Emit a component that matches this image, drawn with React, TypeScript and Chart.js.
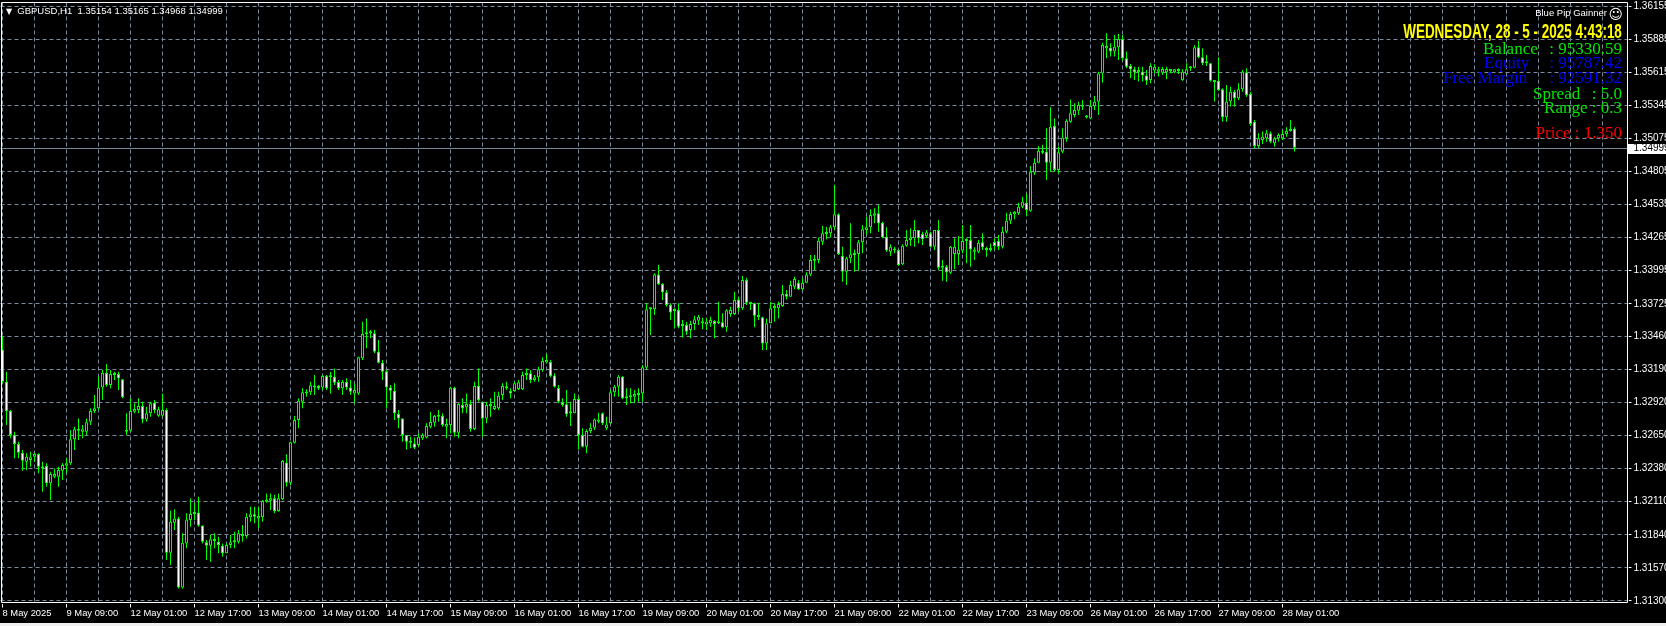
import React, { useEffect, useRef } from 'react';
import { Chart, registerables } from 'chart.js';

Chart.register(...registerables);

const W = 1666;
const H = 626;

// ---- GBPUSD H1 candles, 8 May 2025 17:00 .. 28 May 2025 04:00 ----
const opens = [
  1.33353,1.33090,1.32850,1.32654,1.32581,1.32510,1.32437,1.32450,1.32478,1.32500,
  1.32396,1.32401,1.32260,1.32314,1.32314,1.32363,1.32404,1.32423,1.32619,1.32690,
  1.32682,1.32682,1.32763,1.32850,1.32872,1.33043,1.33163,1.33062,1.33144,1.33152,
  1.33109,1.32682,1.32690,1.32845,1.32858,1.32891,1.32782,1.32831,1.32918,1.32812,
  1.32812,1.32858,1.31694,1.31939,1.31974,1.31411,1.31770,1.31961,1.32010,1.32023,
  1.31917,1.31779,1.31751,1.31803,1.31784,1.31751,1.31689,1.31757,1.31779,1.31784,
  1.31844,1.31830,1.31983,1.32007,1.31974,1.31983,1.32110,1.32119,1.32138,1.32034,
  1.32130,1.32431,1.32265,1.32592,1.32777,1.32926,1.32994,1.33003,1.33043,1.33054,
  1.33043,1.33136,1.33125,1.33130,1.33087,1.33035,1.33087,1.33043,1.32994,1.32994,
  1.33280,1.33492,1.33492,1.33484,1.33334,1.33245,1.33174,1.33043,1.33016,1.32826,
  1.32790,1.32654,1.32592,1.32586,1.32573,1.32627,1.32635,1.32722,1.32755,1.32804,
  1.32809,1.32722,1.32736,1.33041,1.32673,1.32899,1.32880,1.32907,1.32703,1.33054,
  1.32926,1.32790,1.32891,1.32867,1.32872,1.32981,1.33035,1.33013,1.33013,1.33030,
  1.33027,1.33144,1.33158,1.33103,1.33125,1.33185,1.33247,1.33250,1.33141,1.33038,
  1.32921,1.32905,1.32831,1.32831,1.32948,1.32654,1.32559,1.32687,1.32714,1.32763,
  1.32831,1.32709,1.32750,1.33003,1.33049,1.33128,1.32954,1.32962,1.32967,1.32981,
  1.32994,1.33204,1.33680,1.33680,1.33965,1.33887,1.33819,1.33715,1.33666,1.33674,
  1.33544,1.33552,1.33511,1.33560,1.33587,1.33576,1.33557,1.33566,1.33585,1.33576,
  1.33574,1.33533,1.33642,1.33642,1.33761,1.33688,1.33919,1.33723,1.33729,1.33615,
  1.33615,1.33402,1.33566,1.33688,1.33688,1.33707,1.33805,1.33783,1.33865,1.33897,
  1.33843,1.33897,1.33965,1.34077,1.34082,1.34232,1.34295,1.34300,1.34349,1.34455,
  1.34115,1.33987,1.34096,1.34123,1.34131,1.34227,1.34327,1.34349,1.34444,1.34463,
  1.34387,1.34273,1.34150,1.34159,1.34164,1.34047,1.34199,1.34246,1.34259,1.34327,
  1.34295,1.34278,1.34300,1.34191,1.34327,1.34020,1.34028,1.33979,1.34131,1.34131,
  1.34159,1.34237,1.34246,1.34150,1.34150,1.34227,1.34164,1.34164,1.34229,1.34240,
  1.34191,1.34313,1.34403,1.34455,1.34463,1.34517,1.34550,1.34485,1.34795,1.34876,
  1.34974,1.34966,1.34876,1.35176,1.34817,1.34966,1.35075,1.35211,1.35265,1.35301,
  1.35333,1.35257,1.35238,1.35339,1.35374,1.35605,1.35810,1.35815,1.35783,1.35818,
  1.35886,1.35728,1.35666,1.35638,1.35614,1.35619,1.35587,1.35551,1.35628,1.35619,
  1.35611,1.35614,1.35625,1.35614,1.35625,1.35551,1.35598,1.35647,1.35652,1.35818,
  1.35736,1.35687,1.35687,1.35546,1.35546,1.35475,1.35247,1.35375,1.35456,1.35402,
  1.35475,1.35614,1.35437,1.35211,1.35013,1.35062,1.35075,1.35116,1.35035,1.35075,
  1.35075,1.35111,1.35135,1.35154,
];

const highs = [
  1.33457,1.33171,1.32858,1.32682,1.32600,1.32532,1.32505,1.32518,1.32510,1.32505,
  1.32437,1.32423,1.32355,1.32382,1.32396,1.32423,1.32464,1.32695,1.32722,1.32790,
  1.32736,1.32790,1.32872,1.32981,1.33130,1.33185,1.33234,1.33185,1.33171,1.33171,
  1.33109,1.32831,1.32954,1.32913,1.32954,1.32926,1.32886,1.32926,1.32940,1.32886,
  1.32994,1.32872,1.32037,1.32048,1.31988,1.31852,1.32015,1.32138,1.32102,1.32151,
  1.31917,1.31798,1.31838,1.31852,1.31825,1.31770,1.31770,1.31838,1.31866,1.31879,
  1.31920,1.32015,1.32070,1.32070,1.32070,1.32124,1.32178,1.32178,1.32165,1.32178,
  1.32450,1.32497,1.32600,1.32809,1.32954,1.33035,1.33027,1.33090,1.33144,1.33062,
  1.33144,1.33144,1.33171,1.33198,1.33103,1.33103,1.33117,1.33103,1.33076,1.33294,
  1.33579,1.33606,1.33511,1.33511,1.33430,1.33266,1.33185,1.33062,1.33076,1.32858,
  1.32790,1.32654,1.32641,1.32635,1.32668,1.32668,1.32750,1.32845,1.32818,1.32858,
  1.32831,1.32790,1.33049,1.33049,1.32913,1.32954,1.32994,1.32940,1.33090,1.33198,
  1.32926,1.32926,1.32954,1.33008,1.33008,1.33076,1.33090,1.33035,1.33090,1.33103,
  1.33171,1.33198,1.33185,1.33144,1.33212,1.33288,1.33318,1.33266,1.33158,1.33062,
  1.32954,1.33022,1.32926,1.32994,1.32967,1.32709,1.32701,1.32750,1.32790,1.32837,
  1.32839,1.32804,1.33022,1.33062,1.33144,1.33136,1.33035,1.33035,1.33022,1.33035,
  1.33226,1.33729,1.33696,1.33974,1.34042,1.33892,1.33838,1.33729,1.33688,1.33729,
  1.33593,1.33579,1.33587,1.33628,1.33634,1.33612,1.33606,1.33620,1.33593,1.33742,
  1.33647,1.33680,1.33702,1.33824,1.33783,1.33952,1.33938,1.33742,1.33734,1.33729,
  1.33620,1.33606,1.33742,1.33729,1.33742,1.33878,1.33838,1.33914,1.33946,1.33919,
  1.33933,1.33982,1.34123,1.34123,1.34267,1.34360,1.34354,1.34368,1.34694,1.34463,
  1.34191,1.34110,1.34382,1.34169,1.34246,1.34368,1.34436,1.34496,1.34504,1.34531,
  1.34395,1.34349,1.34210,1.34191,1.34169,1.34210,1.34327,1.34341,1.34409,1.34327,
  1.34314,1.34327,1.34314,1.34327,1.34409,1.34082,1.34042,1.34197,1.34259,1.34278,
  1.34368,1.34259,1.34368,1.34186,1.34246,1.34300,1.34191,1.34218,1.34259,1.34286,
  1.34354,1.34468,1.34477,1.34482,1.34550,1.34599,1.34626,1.34849,1.34912,1.35012,
  1.35021,1.35157,1.35328,1.35238,1.35007,1.35157,1.35230,1.35393,1.35361,1.35374,
  1.35388,1.35265,1.35388,1.35420,1.35619,1.35856,1.35932,1.35851,1.35919,1.35927,
  1.35919,1.35783,1.35682,1.35660,1.35660,1.35660,1.35633,1.35687,1.35679,1.35660,
  1.35660,1.35660,1.35638,1.35638,1.35647,1.35638,1.35687,1.35666,1.35837,1.35872,
  1.35810,1.35755,1.35687,1.35551,1.35736,1.35483,1.35511,1.35497,1.35470,1.35524,
  1.35633,1.35647,1.35456,1.35225,1.35116,1.35130,1.35143,1.35130,1.35089,1.35116,
  1.35143,1.35165,1.35225,1.35165,
];

const lows = [
  1.33076,1.32736,1.32627,1.32464,1.32464,1.32363,1.32369,1.32396,1.32437,1.32342,
  1.32192,1.32233,1.32124,1.32301,1.32233,1.32287,1.32342,1.32410,1.32532,1.32614,
  1.32627,1.32654,1.32736,1.32831,1.32858,1.32940,1.33049,1.33035,1.33103,1.33022,
  1.32954,1.32654,1.32682,1.32831,1.32831,1.32750,1.32763,1.32804,1.32831,1.32804,
  1.32804,1.31634,1.31594,1.31879,1.31403,1.31403,1.31730,1.31906,1.31961,1.31906,
  1.31770,1.31634,1.31621,1.31730,1.31689,1.31662,1.31689,1.31730,1.31730,1.31770,
  1.31784,1.31811,1.31947,1.31934,1.31893,1.31947,1.32102,1.32042,1.32015,1.32029,
  1.32124,1.32233,1.32246,1.32586,1.32709,1.32872,1.32967,1.32981,1.32981,1.33022,
  1.33022,1.33022,1.32994,1.33062,1.33022,1.32981,1.33022,1.32981,1.32913,1.32981,
  1.33266,1.33362,1.33443,1.33321,1.33239,1.33103,1.32872,1.32940,1.32777,1.32709,
  1.32600,1.32537,1.32546,1.32540,1.32559,1.32614,1.32627,1.32709,1.32722,1.32763,
  1.32722,1.32627,1.32668,1.32641,1.32627,1.32831,1.32831,1.32682,1.32695,1.32926,
  1.32641,1.32750,1.32804,1.32858,1.32858,1.32940,1.33022,1.32954,1.33008,1.33022,
  1.33022,1.33103,1.33076,1.33090,1.33090,1.33171,1.33239,1.33125,1.33043,1.32913,
  1.32886,1.32804,1.32728,1.32831,1.32537,1.32554,1.32505,1.32668,1.32695,1.32750,
  1.32736,1.32695,1.32744,1.32967,1.32967,1.32946,1.32899,1.32913,1.32913,1.32926,
  1.32926,1.33190,1.33470,1.33634,1.33878,1.33756,1.33702,1.33593,1.33525,1.33525,
  1.33451,1.33470,1.33443,1.33511,1.33552,1.33517,1.33511,1.33538,1.33443,1.33560,
  1.33525,1.33498,1.33620,1.33634,1.33661,1.33674,1.33715,1.33674,1.33533,1.33593,
  1.33348,1.33348,1.33566,1.33579,1.33606,1.33702,1.33761,1.33783,1.33843,1.33838,
  1.33838,1.33892,1.33952,1.34001,1.34055,1.34205,1.34251,1.34267,1.34327,1.34123,
  1.33906,1.33878,1.34055,1.33987,1.33995,1.34137,1.34286,1.34300,1.34382,1.34314,
  1.34259,1.34150,1.34115,1.34137,1.34033,1.34042,1.34191,1.34197,1.34191,1.34218,
  1.34205,1.34259,1.34186,1.34164,1.34001,1.33914,1.33906,1.33968,1.34006,1.34042,
  1.34137,1.34055,1.34028,1.34082,1.34137,1.34164,1.34110,1.34150,1.34164,1.34164,
  1.34177,1.34300,1.34376,1.34414,1.34449,1.34504,1.34441,1.34477,1.34776,1.34871,
  1.34947,1.34735,1.34803,1.34803,1.34789,1.34953,1.35048,1.35203,1.35246,1.35265,
  1.35306,1.35238,1.35230,1.35306,1.35265,1.35529,1.35728,1.35742,1.35742,1.35715,
  1.35709,1.35647,1.35565,1.35551,1.35538,1.35538,1.35511,1.35524,1.35606,1.35579,
  1.35592,1.35557,1.35606,1.35606,1.35600,1.35546,1.35592,1.35625,1.35647,1.35728,
  1.35674,1.35666,1.35538,1.35375,1.35464,1.35211,1.35211,1.35334,1.35334,1.35388,
  1.35456,1.35415,1.35176,1.34994,1.34994,1.35029,1.35048,1.35035,1.35007,1.35048,
  1.35062,1.35089,1.35130,1.34968,
];

const closes = [
  1.33090,1.32850,1.32654,1.32581,1.32510,1.32445,1.32478,1.32472,1.32500,1.32396,
  1.32382,1.32260,1.32336,1.32336,1.32369,1.32410,1.32423,1.32619,1.32701,1.32706,
  1.32701,1.32758,1.32850,1.32872,1.33043,1.33163,1.33062,1.33152,1.33152,1.33117,
  1.32962,1.32695,1.32850,1.32867,1.32891,1.32782,1.32831,1.32913,1.32858,1.32864,
  1.32858,1.31694,1.31947,1.31974,1.31411,1.31776,1.31966,1.32010,1.32023,1.31917,
  1.31784,1.31751,1.31803,1.31790,1.31757,1.31689,1.31757,1.31779,1.31792,1.31852,
  1.31830,1.31988,1.32007,1.31988,1.31994,1.32116,1.32124,1.32138,1.32034,1.32138,
  1.32442,1.32265,1.32595,1.32777,1.32935,1.33003,1.33008,1.33060,1.33057,1.33035,
  1.33136,1.33035,1.33136,1.33081,1.33035,1.33087,1.33043,1.33008,1.33022,1.33288,
  1.33479,1.33476,1.33484,1.33334,1.33245,1.33171,1.33043,1.33016,1.32831,1.32790,
  1.32654,1.32600,1.32600,1.32551,1.32641,1.32654,1.32728,1.32760,1.32809,1.32812,
  1.32736,1.32744,1.33041,1.32673,1.32907,1.32872,1.32907,1.32703,1.33054,1.32940,
  1.32790,1.32899,1.32899,1.32891,1.32975,1.33054,1.33049,1.32994,1.33076,1.33084,
  1.33144,1.33158,1.33103,1.33125,1.33190,1.33258,1.33266,1.33136,1.33049,1.32926,
  1.32899,1.32823,1.32837,1.32948,1.32654,1.32559,1.32687,1.32714,1.32782,1.32782,
  1.32750,1.32741,1.33003,1.33049,1.33130,1.32954,1.32967,1.32975,1.32989,1.32994,
  1.33207,1.33680,1.33688,1.33965,1.33884,1.33819,1.33715,1.33655,1.33674,1.33538,
  1.33552,1.33498,1.33560,1.33598,1.33620,1.33566,1.33579,1.33593,1.33560,1.33566,
  1.33533,1.33672,1.33674,1.33756,1.33688,1.33919,1.33734,1.33734,1.33628,1.33634,
  1.33402,1.33566,1.33688,1.33707,1.33723,1.33805,1.33783,1.33878,1.33927,1.33843,
  1.33897,1.33965,1.34082,1.34088,1.34240,1.34300,1.34300,1.34349,1.34455,1.34131,
  1.33987,1.34096,1.34129,1.34137,1.34227,1.34333,1.34349,1.34450,1.34463,1.34382,
  1.34267,1.34159,1.34191,1.34169,1.34042,1.34199,1.34246,1.34267,1.34327,1.34259,
  1.34251,1.34308,1.34191,1.34327,1.34020,1.34033,1.33982,1.34191,1.34191,1.34169,
  1.34237,1.34246,1.34169,1.34169,1.34224,1.34186,1.34169,1.34172,1.34197,1.34191,
  1.34313,1.34403,1.34458,1.34477,1.34517,1.34558,1.34490,1.34803,1.34876,1.34974,
  1.34958,1.34876,1.35170,1.34817,1.34961,1.35083,1.35219,1.35279,1.35306,1.35347,
  1.35347,1.35246,1.35339,1.35374,1.35605,1.35837,1.35829,1.35783,1.35823,1.35886,
  1.35728,1.35660,1.35638,1.35614,1.35633,1.35587,1.35546,1.35666,1.35660,1.35638,
  1.35641,1.35641,1.35630,1.35638,1.35633,1.35619,1.35638,1.35655,1.35818,1.35736,
  1.35687,1.35695,1.35546,1.35535,1.35470,1.35247,1.35375,1.35456,1.35402,1.35475,
  1.35619,1.35429,1.35192,1.35013,1.35075,1.35089,1.35116,1.35048,1.35075,1.35102,
  1.35111,1.35135,1.35152,1.34999,
];

// time-axis labels, one every 16 bars (MT4 style)
const timeTickLabels = [
  '8 May 2025', '9 May 09:00', '12 May 01:00', '12 May 17:00', '13 May 09:00',
  '14 May 01:00', '14 May 17:00', '15 May 09:00', '16 May 01:00', '16 May 17:00',
  '19 May 09:00', '20 May 01:00', '20 May 17:00', '21 May 09:00', '22 May 01:00',
  '22 May 17:00', '23 May 09:00', '26 May 01:00', '26 May 17:00', '27 May 09:00',
  '28 May 01:00',
];
const barsPerTimeLabel = 16;
const barsPerGridLine = 8;

// price axis
const priceTicks = [
  1.31300, 1.31570, 1.31840, 1.32110, 1.32380, 1.32650, 1.32920, 1.33190, 1.33460, 1.33725,
  1.33995, 1.34265, 1.34535, 1.34805, 1.35075, 1.35345, 1.35615, 1.35885, 1.36155,
];
const priceTickLabels = [
  '1.31300', '1.31570', '1.31840', '1.32110', '1.32380', '1.32650', '1.32920', '1.33190', '1.33460', '1.33725',
  '1.33995', '1.34265', '1.34535', '1.34805', '1.35075', '1.35345', '1.35615', '1.35885', '1.36155',
];
const priceMin = 1.312796;
const priceMax = 1.361836;

const slotCount = 407; // bar slots in the window, incl. the empty chart shift on the right
const slotLabels = Array.from({ length: slotCount }, (_, i) => String(i));

const headerSymbol = 'GBPUSD,H1';
const headerOHLC = '1.35154 1.35165 1.34968 1.34999';
const bidPrice = 1.34999;
const bidLabel = '1.34999';

const eaName = 'Blue Pip Gainner';
const dateText = 'WEDNESDAY, 28 - 5 - 2025 4:43:18';
const balanceText = ': 95330.59';
const equityText = ': 95787.42';
const freeMarginText = ': 92591.32';
const spreadText = ': 5.0';
const rangeText = 'Range : 0.3';
const priceText = 'Price : 1.350';

const LIME = '#00ff00';
const GRID = '#7a8a9c';
const AXIS_FONT = '"Liberation Sans", Arial, sans-serif';
const X_AXIS_SIZE = 9.4;
const Y_AXIS_SIZE = 10;

const mt4Overlay = {
  id: 'mt4Overlay',
  beforeDatasetsDraw(chart: any) {
    const { ctx, chartArea: a, scales } = chart;
    const y = Math.round(scales.y.getPixelForValue(bidPrice)) + 0.5;
    ctx.save();
    ctx.strokeStyle = GRID;
    ctx.lineWidth = 1;
    ctx.beginPath();
    ctx.moveTo(a.left, y);
    ctx.lineTo(a.right, y);
    ctx.stroke();
    ctx.restore();
  },
  afterDraw(chart: any) {
    const { ctx, chartArea: a, scales } = chart;
    ctx.save();
    // frame
    ctx.strokeStyle = '#ffffff';
    ctx.lineWidth = 1;
    const l = Math.round(a.left) + 0.5;
    const t = Math.round(a.top) - 0.5;
    const r = Math.round(a.right) - 1.5;
    const b = Math.round(a.bottom) - 1.5;
    ctx.beginPath();
    ctx.moveTo(l, t); ctx.lineTo(r, t); ctx.lineTo(r, b); ctx.lineTo(l, b); ctx.closePath();
    ctx.stroke();
    // current bid label
    const y = Math.round(scales.y.getPixelForValue(bidPrice)) + 0.5;
    ctx.fillStyle = '#ffffff';
    ctx.fillRect(Math.round(a.right) - 1, y - 4.5, W, 10);
    ctx.fillStyle = '#000000';
    ctx.font = `${Y_AXIS_SIZE}px ${AXIS_FONT}`;
    ctx.textBaseline = 'middle';
    ctx.textAlign = 'left';
    ctx.fillText(bidLabel, a.right + 5, y);
    ctx.restore();
  },
};

type TxtProps = {
  left?: number; right?: number; baseline: number; size: number; family: string;
  ratio: number; color: string; weight?: string; scaleX?: number; children: React.ReactNode;
};
function Txt({ left, right, baseline, size, family, ratio, color, weight, scaleX, children }: TxtProps) {
  const style: React.CSSProperties = {
    position: 'absolute',
    top: baseline - size * ratio,
    fontSize: size,
    lineHeight: `${size}px`,
    fontFamily: family,
    fontWeight: (weight || 'normal') as any,
    color,
    whiteSpace: 'pre',
  };
  if (left !== undefined) style.left = left;
  else style.right = W - (right as number);
  if (scaleX) {
    style.transform = `scaleX(${scaleX})`;
    style.transformOrigin = 'right center';
  }
  return <div style={style}>{children}</div>;
}

const SANS = '"Liberation Sans", Arial, sans-serif';
const SERIF = '"Liberation Serif", "Times New Roman", serif';
const DEJAVU = '"DejaVu Sans", sans-serif';
const R_SANS = 0.8465;
const R_SERIF = 0.8375;
const R_DEJAVU = 0.846;
const GREEN_TXT = '#00e800';
const BLUE_TXT = '#0000ff';

export default function App() {
  const canvasRef = useRef<HTMLCanvasElement>(null);

  useEffect(() => {
    const canvas = canvasRef.current;
    if (!canvas) return;
    const bodyColors = opens.map((o, i) => (closes[i] < o ? '#ffffff' : '#000000'));
    const chart = new Chart(canvas, {
      type: 'bar',
      data: {
        labels: slotLabels,
        datasets: [
          {
            label: 'body',
            data: opens.map((o, i) => [o, closes[i]]) as any,
            backgroundColor: bodyColors,
            borderColor: LIME,
            borderWidth: 1,
            borderSkipped: false,
            barThickness: 3,
            grouped: false,
            inflateAmount: 0,
            minBarLength: 2,
          } as any,
          {
            label: 'wick',
            data: lows.map((lo, i) => [lo, highs[i]]) as any,
            backgroundColor: LIME,
            borderWidth: 0,
            barThickness: 1,
            grouped: false,
            inflateAmount: 0,
          } as any,
        ],
      },
      options: {
        responsive: false,
        maintainAspectRatio: false,
        animation: false,
        devicePixelRatio: 1,
        events: [],
        layout: { padding: { left: 0.5, top: 2.5, right: 0, bottom: 0 }, autoPadding: false } as any,
        plugins: { legend: { display: false }, tooltip: { enabled: false }, title: { display: false } },
        scales: {
          x: {
            type: 'category',
            offset: true,
            afterFit: (s: any) => { s.height = 22.5; s.paddingLeft = 0; s.paddingRight = 0; },
            ticks: {
              autoSkip: false,
              maxRotation: 0,
              minRotation: 0,
              align: 'start',
              padding: 0,
              color: '#ffffff',
              font: { family: AXIS_FONT, size: X_AXIS_SIZE },
              callback: (_v: any, i: number) =>
                i % barsPerTimeLabel === 0 && timeTickLabels[i / barsPerTimeLabel] ? timeTickLabels[i / barsPerTimeLabel] : '',
            },
            grid: {
              offset: false,
              lineWidth: 1,
              color: (c: any) => (c.index % barsPerGridLine === 0 ? GRID : 'rgba(0,0,0,0)'),
              drawTicks: true,
              tickLength: 4,
              tickColor: (c: any) =>
                c.index % barsPerTimeLabel === 0 && c.index / barsPerTimeLabel < timeTickLabels.length ? '#ffffff' : 'rgba(0,0,0,0)',
              tickBorderDash: [],
            },
            border: { display: false, dash: [4, 3] },
          } as any,
          y: {
            type: 'linear',
            position: 'right',
            min: priceMin,
            max: priceMax,
            afterBuildTicks: (s: any) => { s.ticks = priceTicks.map((value) => ({ value })); },
            afterFit: (s: any) => { s.width = 37.5; s.paddingTop = 0; s.paddingBottom = 0; },
            ticks: {
              color: '#ffffff',
              padding: 2,
              font: { family: AXIS_FONT, size: Y_AXIS_SIZE },
              callback: (_v: any, i: number) => priceTickLabels[i],
            },
            grid: {
              color: GRID,
              lineWidth: 1,
              drawTicks: true,
              tickLength: 3,
              tickColor: '#ffffff',
              tickBorderDash: [],
            },
            border: { display: false, dash: [4, 3] },
          } as any,
        },
      },
      plugins: [mt4Overlay],
    });
    return () => chart.destroy();
  }, []);

  return (
    <div style={{ position: 'absolute', left: 0, top: 0, width: W, height: H, background: '#000', overflow: 'hidden' }}>
      <canvas ref={canvasRef} width={W} height={H} style={{ position: 'absolute', left: 0, top: 0, width: W, height: H }} />
      <Txt left={6} baseline={14.5} size={8} family={DEJAVU} ratio={R_DEJAVU} color="#ffffff">▼</Txt>
      <Txt left={17.3} baseline={14.5} size={9.5} family={SANS} ratio={R_SANS} color="#ffffff">{`${headerSymbol}  ${headerOHLC}`}</Txt>

      <Txt right={1607} baseline={15.7} size={9.5} family={SANS} ratio={R_SANS} color="#ffffff">{eaName}</Txt>
      <Txt right={1623} baseline={18.5} size={14} family={DEJAVU} ratio={R_DEJAVU} color="#ffffff">☺</Txt>
      <Txt right={1622} baseline={39} size={19.5} family={SANS} ratio={R_SANS} color="#ffff00" weight="bold" scaleX={0.69}>{dateText}</Txt>

      <Txt left={1483} baseline={54} size={17} family={SERIF} ratio={R_SERIF} color={GREEN_TXT}>Balance</Txt>
      <Txt right={1622} baseline={54} size={17} family={SERIF} ratio={R_SERIF} color={GREEN_TXT}>{balanceText}</Txt>
      <Txt left={1484} baseline={68.3} size={17} family={SERIF} ratio={R_SERIF} color={BLUE_TXT}>Equity</Txt>
      <Txt right={1622} baseline={68.3} size={17} family={SERIF} ratio={R_SERIF} color={BLUE_TXT}>{equityText}</Txt>
      <Txt left={1443} baseline={83.3} size={17} family={SERIF} ratio={R_SERIF} color={BLUE_TXT}>Free Margin</Txt>
      <Txt right={1622} baseline={83.3} size={17} family={SERIF} ratio={R_SERIF} color={BLUE_TXT}>{freeMarginText}</Txt>
      <Txt left={1533} baseline={99} size={17} family={SERIF} ratio={R_SERIF} color={GREEN_TXT}>Spread</Txt>
      <Txt right={1622} baseline={99} size={17} family={SERIF} ratio={R_SERIF} color={GREEN_TXT}>{spreadText}</Txt>
      <Txt right={1622} baseline={113.3} size={17} family={SERIF} ratio={R_SERIF} color={GREEN_TXT}>{rangeText}</Txt>
      <Txt right={1622} baseline={138.3} size={17} family={SERIF} ratio={R_SERIF} color="#ff0000">{priceText}</Txt>

      <div style={{ position: 'absolute', left: 0, top: 623, width: W, height: 3, background: '#f0f0f0' }} />
    </div>
  );
}
